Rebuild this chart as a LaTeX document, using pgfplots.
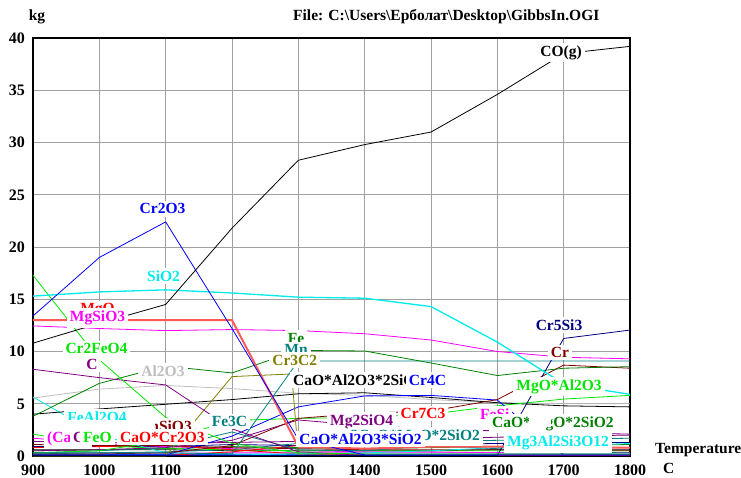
\documentclass[border=0pt]{standalone}
\usepackage{pgfplots}
\pgfplotsset{compat=1.18}
\usepackage{fontspec}
\setmainfont{Liberation Serif}
\definecolor{hblue}{RGB}{0,0,255}
\definecolor{hcyan}{RGB}{0,235,235}
\definecolor{hmag}{RGB}{255,0,255}
\definecolor{hlime}{RGB}{0,230,0}
\definecolor{hdgreen}{RGB}{0,128,0}
\definecolor{hpurple}{RGB}{128,0,128}
\definecolor{hteal}{RGB}{0,128,128}
\definecolor{holive}{RGB}{128,128,0}
\definecolor{hmaroon}{RGB}{128,0,0}
\definecolor{hnavy}{RGB}{0,0,128}
\definecolor{hsilver}{RGB}{190,190,190}
\definecolor{hred}{RGB}{255,0,0}
\definecolor{hsalmon}{RGB}{255,90,90}
\definecolor{hgrid}{RGB}{160,160,160}
\newcommand\labfont{\fontsize{15.5}{16}\selectfont\bfseries}
\newcommand\tickfont{\fontsize{16}{17}\selectfont\bfseries}
\begin{document}
\begin{tikzpicture}[x=1pt,y=1pt,
  lab/.style={fill=white, inner xsep=3pt, inner ysep=2.5pt, font=\labfont, anchor=base},
  labw/.style={lab, anchor=base west},
  labe/.style={lab, anchor=base east}]
\useasboundingbox (0,0) rectangle (741,477);
\begin{axis}[
  at={(33pt,21pt)}, anchor=south west,
  width=597pt, height=418pt, scale only axis,
  xmin=900, xmax=1800, ymin=0, ymax=40,
  xtick={900,1000,...,1800}, ytick={0,5,...,40},
  grid=major, major grid style={hgrid, line width=0.9pt},
  axis line style={line width=2pt, black},
  major tick length=0pt,
  tick label style={font=\tickfont},
  /pgf/number format/1000 sep={},
  /pgf/number format/assume math mode=true,
  xticklabel style={anchor=base, yshift=-19.5pt, inner sep=0pt},
  yticklabel style={anchor=base east, xshift=-8pt, yshift=-5.3pt, inner sep=0pt},
  clip=false,
  every axis plot/.append style={line width=0.8pt, mark=none},
]
% ---- low clutter lines ----
\addplot[hpurple, line width=1.5pt] coordinates {(900,0.05)(1000,0.05)(1100,0.05)(1200,0.05)(1300,0.05)(1400,0.05)(1500,0.05)(1600,0.05)(1700,0.05)(1800,0.05)};
\addplot[hblue, line width=1.2pt] coordinates {(900,0.15)(1000,0.15)(1100,0.15)(1200,0.15)(1300,0.15)(1400,0.15)(1500,0.15)(1600,0.15)(1700,0.15)(1800,0.15)};
\addplot[hmag] coordinates {(900,0.28)(1000,0.28)(1100,0.28)(1200,0.3)(1300,0.3)(1400,0.3)(1500,0.3)(1600,0.3)(1700,0.3)(1800,0.3)};
\addplot[black] coordinates {(900,0.6)(1000,0.6)(1100,0.6)(1200,0.5)(1300,0.5)(1400,0.5)(1500,0.5)(1600,0.6)(1700,0.6)(1800,0.6)};
\addplot[hdgreen] coordinates {(900,0.5)(1000,0.6)(1100,0.7)(1200,0.9)(1300,0.8)(1400,0.7)(1500,0.8)(1600,0.9)(1700,1.0)(1800,1.1)};
\addplot[hteal] coordinates {(900,0.2)(1000,0.3)(1100,0.4)(1200,0.6)(1300,1.2)(1400,1.3)(1500,1.4)(1600,1.5)(1700,1.6)(1800,1.7)};
\addplot[hnavy] coordinates {(900,0.9)(1000,0.9)(1100,0.9)(1200,1.1)(1300,1.0)(1400,1.0)(1500,1.1)(1600,1.2)(1700,1.3)(1800,1.3)};
\addplot[hpurple] coordinates {(900,1.4)(1000,1.3)(1100,1.2)(1200,1.3)(1300,1.4)(1400,1.5)(1500,1.6)(1600,1.8)(1700,1.9)(1800,2.0)};
\addplot[hmag] coordinates {(900,1.7)(1000,1.2)(1100,0.9)(1200,0.7)(1300,0.5)(1400,0.4)(1500,0.4)(1600,0.3)(1700,0.3)(1800,0.3)};
\addplot[hlime] coordinates {(900,2.1)(1000,1.0)(1100,0.7)(1200,0.6)(1300,0.5)(1400,0.5)(1500,0.5)(1600,0.5)(1700,0.5)(1800,0.5)};
\addplot[hred] coordinates {(900,0.8)(1000,0.9)(1100,1.0)(1200,0.6)(1300,0.2)(1400,0.1)(1500,0.1)(1600,0.1)(1700,0.1)(1800,0.1)};
\addplot[hmaroon] coordinates {(900,1.1)(1000,1.0)(1100,1.0)(1200,0.8)(1300,0.7)(1400,0.6)(1500,0.6)(1600,0.6)(1700,0.5)(1800,0.5)};
\addplot[hcyan] coordinates {(900,0.1)(1000,0.1)(1100,0.1)(1200,0.1)(1300,0.2)(1400,0.3)(1500,0.5)(1600,0.8)(1700,1.0)(1800,1.2)};
\addplot[hred] coordinates {(900,0.05)(1000,0.05)(1100,0.05)(1200,0.4)(1300,1.0)(1400,0.9)(1500,1.0)(1600,0.9)(1700,0.8)(1800,0.8)};
\addplot[hteal] coordinates {(900,0.3)(1000,0.5)(1100,0.8)(1200,2.3)(1300,0.6)(1400,0.5)(1500,1.0)(1600,0.7)(1700,0.4)(1800,0.3)};
\addplot[hcyan] coordinates {(900,5.65)(1000,2.0)(1100,0.3)(1200,0.2)(1300,0.2)(1400,0.2)(1500,0.2)(1600,0.2)(1700,0.2)(1800,0.2)};
\addplot[hpurple] coordinates {(900,0.5)(1000,0.6)(1100,0.8)(1200,1.5)(1300,3.45)(1400,2.9)(1500,2.6)(1600,2.4)(1700,2.2)(1800,2.1)};
% ---- main lines ----
\addplot[hsilver] coordinates {(900,5.55)(1000,6.4)(1100,6.75)(1200,6.45)(1300,6.0)(1400,5.8)(1500,5.4)(1600,5.1)(1700,5.0)(1800,5.0)};
\addplot[black] coordinates {(900,4.0)(1000,4.5)(1100,4.95)(1200,5.4)(1300,5.95)(1400,6.05)(1500,5.6)(1600,5.1)(1700,4.8)(1800,4.7)};
\addplot[hlime] coordinates {(900,0.3)(1000,0.5)(1100,1.5)(1200,3.4)(1300,3.6)(1400,3.7)(1500,4.0)(1600,4.8)(1700,5.45)(1800,5.8)};
\addplot[hblue] coordinates {(900,0.1)(1000,0.1)(1100,0.1)(1200,1.9)(1300,4.7)(1400,5.75)(1500,5.8)(1600,5.35)(1700,0.1)(1800,0.1)};
\addplot[hmaroon] coordinates {(900,0.2)(1000,0.2)(1100,0.3)(1200,1.0)(1300,3.6)(1400,4.1)(1500,4.3)(1600,5.4)(1700,8.7)(1800,8.4)};
\addplot[holive] coordinates {(900,0)(1000,0)(1100,0)(1200,7.6)(1290,7.85)(1300,0.1)(1400,0.1)(1500,0.1)(1600,0.1)(1700,0.1)(1800,0.1)};
\addplot[hteal] coordinates {(900,0.3)(1000,0.3)(1100,0.3)(1200,0.2)(1300,9.1)(1400,9.1)(1500,9.1)(1600,9.1)(1700,9.1)(1800,9.1)};
\addplot[hdgreen] coordinates {(900,3.8)(1000,6.95)(1100,8.6)(1200,7.95)(1300,10.1)(1400,10.05)(1500,8.9)(1600,7.7)(1700,8.4)(1800,8.55)};
\addplot[hpurple] coordinates {(900,8.3)(1000,7.5)(1100,6.8)(1200,2.6)(1300,0.4)(1400,0.05)(1500,0.05)(1600,0.05)(1700,0.05)(1800,0.05)};
\addplot[hnavy] coordinates {(900,0.05)(1000,0.05)(1100,0.05)(1200,0.05)(1300,0.05)(1400,0.05)(1500,0.05)(1600,0.05)(1700,11.25)(1800,12.05)};
\addplot[hlime] coordinates {(900,17.3)(1000,9.2)(1100,3.7)(1200,1.2)(1300,0.3)(1400,0.2)(1500,0.2)(1600,0.2)(1700,0.2)(1800,0.2)};
\addplot[hmag] coordinates {(900,12.45)(1000,12.2)(1100,12.0)(1200,12.1)(1300,12.0)(1400,11.7)(1500,11.1)(1600,10.0)(1700,9.45)(1800,9.3)};
\addplot[hsalmon, line width=2pt] coordinates {(900,13.0)(1000,13.0)(1100,13.0)(1200,13.0)(1300,0.9)(1400,0.7)(1500,0.9)(1600,0.9)(1700,0.8)(1800,0.8)};
\addplot[hcyan, line width=1.3pt] coordinates {(900,15.3)(1000,15.7)(1100,15.9)(1200,15.6)(1300,15.2)(1400,15.1)(1500,14.3)(1600,10.9)(1700,6.9)(1800,5.9)};
\addplot[hblue] coordinates {(900,13.4)(1000,19.0)(1100,22.4)(1200,12.2)(1300,1.6)(1400,0.1)(1500,0.1)(1600,0.1)(1700,0.1)(1800,0.1)};
\addplot[black] coordinates {(900,10.8)(1000,12.7)(1100,14.5)(1200,21.8)(1300,28.3)(1400,29.8)(1500,31.0)(1600,34.6)(1700,38.5)(1800,39.2)};
\end{axis}
% ---- labels (HSC style, white boxes) ----
\node[lab] at (561,420.5) {CO(g)};
\node[lab, text=hblue] at (162.5,263) {Cr2O3};
\node[lab, text=hcyan] at (163.5,195.3) {SiO2};
\node[lab, text=hred] at (97.5,163.7) {MgO};
\node[lab, text=hmag] at (97.5,155.3) {MgSiO3};
\node[lab, text=hlime] at (96.5,123.7) {Cr2FeO4};
\node[lab, text=hpurple] at (92,108) {C};
\node[lab, text=hsilver] at (163,100.3) {Al2O3};
\node[lab, text=hcyan] at (97,54.3) {FeAl2O4};
\node[labe, text=hmaroon] at (195,46) {MnSiO3};
\fill[white] (62,45) rectangle (155,57);
\node[lab, text=hteal] at (229.5,50.3) {Fe3C};
\node[labw, text=hmag] at (44,35) {(CaO)};
\node[labw, text=hpurple] at (70,35) {CaO};
\node[labw, text=hlime] at (80,35) {FeO};
\node[labw, text=hred] at (117,35) {CaO*Cr2O3};
\node[lab, text=hdgreen] at (296,134) {Fe};
\node[lab, text=hteal] at (296,122.5) {Mn};
\node[lab, text=holive] at (294.7,112) {Cr3C2};
\node[labw] at (290,92) {CaO*Al2O3*2SiO2};
\node[lab, text=hblue] at (427.5,92) {Cr4C};
\node[labw, text=hpurple] at (327,51.5) {Mg2SiO4};
\node[labe, text=hteal] at (483,37) {2CaO*MgO*2SiO2};
\node[lab, text=hblue] at (360.5,33) {CaO*Al2O3*SiO2};
\node[lab, text=hred] at (423,58.7) {Cr7C3};
\node[labw, text=hmag] at (477,57.5) {FeSi};
\node[labw, text=hdgreen] at (489,49.7) {CaO*MgO*2SiO2};
\fill[white] (529,50) rectangle (551,61);
\node[lab, text=hcyan] at (558,30.3) {Mg3Al2Si3O12};
\node[lab, text=hlime] at (559,87) {MgO*Al2O3};
\node[lab, text=hmaroon] at (560,119.7) {Cr};
\node[lab, text=hnavy] at (559,146.3) {Cr5Si3};
% ---- outer texts ----
\node[font=\labfont, anchor=base, inner sep=0pt] at (37,456.3) {kg};
\node[font=\labfont, anchor=base west, inner sep=0pt] at (293,456.3) {File: C:\textbackslash Users\textbackslash Ерболат\textbackslash Desktop\textbackslash GibbsIn.OGI};
\node[font=\labfont, anchor=base west, inner sep=0pt] at (655,23.7) {Temperature};
\node[font=\labfont, anchor=base west, inner sep=0pt] at (663,3.7) {C};
\end{tikzpicture}
\end{document}
